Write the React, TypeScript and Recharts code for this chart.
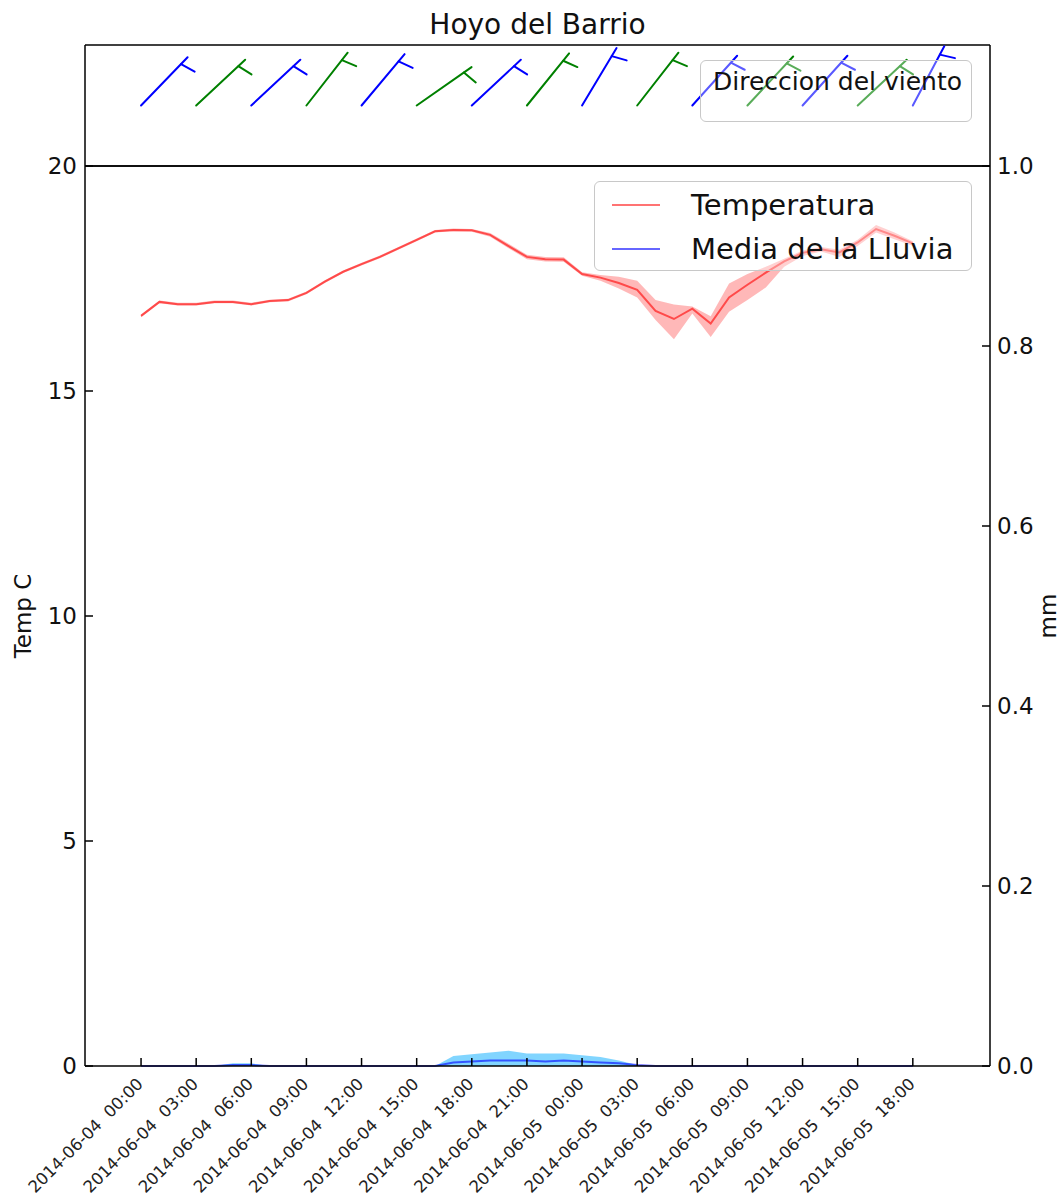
import React from 'react';
import { ComposedChart, Line, Area, Scatter, XAxis, YAxis, Legend } from 'recharts';

const FONT = '"DejaVu Sans", sans-serif';
const X_DOMAIN = [-3.05, 46.2];

// x ticks every 3 hours from 2014-06-04 00:00
const xTicks = [0, 3, 6, 9, 12, 15, 18, 21, 24, 27, 30, 33, 36, 39, 42];
const xTickLabels = [
  '2014-06-04  00:00', '2014-06-04  03:00', '2014-06-04  06:00', '2014-06-04  09:00',
  '2014-06-04  12:00', '2014-06-04  15:00', '2014-06-04  18:00', '2014-06-04  21:00',
  '2014-06-05  00:00', '2014-06-05  03:00', '2014-06-05  06:00', '2014-06-05  09:00',
  '2014-06-05  12:00', '2014-06-05  15:00', '2014-06-05  18:00',
];

const tempTicks = [0, 5, 10, 15, 20];
const mmTicks = [0, 0.2, 0.4, 0.6, 0.8, 1.0];

// hourly values, hour 0 .. 42
const temp = [
  16.67, 16.98, 16.93, 16.93, 16.98, 16.98, 16.93, 17.0, 17.02, 17.18, 17.43, 17.65, 17.82, 17.98,
  18.17, 18.36, 18.55, 18.58, 18.57, 18.47, 18.22, 17.98, 17.93, 17.92, 17.6, 17.52, 17.4, 17.25,
  16.78, 16.6, 16.83, 16.5, 17.08, 17.36, 17.63, 17.88, 18.07, 18.15, 18.08, 18.3, 18.6, 18.45, 18.28,
];
const tempMin = [
  16.64, 16.95, 16.9, 16.9, 16.95, 16.95, 16.9, 16.97, 16.99, 17.15, 17.4, 17.62, 17.79, 17.95,
  18.14, 18.33, 18.52, 18.55, 18.54, 18.43, 18.17, 17.93, 17.88, 17.87, 17.56, 17.45, 17.28, 17.08,
  16.58, 16.15, 16.72, 16.2, 16.76, 17.02, 17.3, 17.76, 18.0, 18.1, 17.98, 18.22, 18.52, 18.37, 18.23,
];
const tempMax = [
  16.7, 17.01, 16.96, 16.96, 17.01, 17.01, 16.96, 17.03, 17.05, 17.21, 17.46, 17.68, 17.85, 18.01,
  18.2, 18.39, 18.58, 18.61, 18.6, 18.51, 18.27, 18.03, 17.98, 17.97, 17.64, 17.58, 17.54, 17.45,
  17.02, 16.92, 16.88, 16.66, 17.39, 17.6, 17.76, 17.94, 18.12, 18.2, 18.14, 18.36, 18.69, 18.52, 18.33,
];
const rainMean = [
  0, 0, 0, 0, 0, 0.001, 0.001, 0, 0, 0, 0, 0, 0, 0, 0, 0, 0,
  0.004, 0.005, 0.006, 0.006, 0.006, 0.005, 0.006, 0.005, 0.004, 0.003, 0.001,
  0, 0, 0, 0, 0, 0, 0, 0, 0, 0, 0, 0, 0, 0, 0,
];
const rainMax = [
  0, 0, 0, 0, 0, 0.003, 0.003, 0, 0, 0, 0, 0, 0, 0, 0, 0, 0,
  0.011, 0.013, 0.015, 0.017, 0.014, 0.014, 0.014, 0.012, 0.01, 0.006, 0.001,
  0, 0, 0, 0, 0, 0, 0, 0, 0, 0, 0, 0, 0, 0, 0,
];

// wind direction (degrees, from north) every 3 hours
const windHours = [0, 3, 6, 9, 12, 15, 18, 21, 24, 27, 30, 33, 36, 39, 42];
const windDir = [44, 47, 47, 38, 40, 55, 47, 39, 31, 38, 42, 43, 42, 47, 28];

const legendOrder = ['temp', 'rain'];

const data = temp.map((t, i) => ({
  h: i,
  temp: t,
  tempBand: [tempMin[i], tempMax[i]],
  rain: rainMean[i],
  rainBand: [0, rainMax[i]],
}));

const windData = windHours.map((h, i) => ({ h, y: 0.5, dir: windDir[i], group: i % 2 }));

const spine = { stroke: '#000', strokeWidth: 1.5 };
const STAFF = 67;

const Barb = (props: any) => {
  const { cx, cy, payload } = props;
  const a = (payload.dir * Math.PI) / 180;
  const ux = Math.sin(a);
  const uy = -Math.cos(a);
  const tipX = cx + ux * STAFF;
  const tipY = cy + uy * STAFF;
  const jX = cx + ux * STAFF * 0.86;
  const jY = cy + uy * STAFF * 0.86;
  const bX = jX - uy * 15 + ux * 4;
  const bY = jY + ux * 15 + uy * 4;
  const color = payload.group === 0 ? '#0000ff' : '#008000';
  return (
    <g stroke={color} strokeWidth={2} strokeLinecap="round">
      <line x1={cx} y1={cy} x2={tipX} y2={tipY} />
      <line x1={jX} y1={jY} x2={bX} y2={bY} />
    </g>
  );
};

const DateTick = ({ x, y, payload }: any) => {
  const label = xTickLabels[xTicks.indexOf(payload.value)];
  const px = x + 3;
  const py = y + 5;
  return (
    <text
      x={px}
      y={py}
      transform={`rotate(-45, ${px}, ${py})`}
      textAnchor="end"
      fontSize={16.5}
      fill="#222"
      fontFamily={FONT}
      style={{ whiteSpace: 'pre' }}
    >
      {label}
    </text>
  );
};

const boxStyle: React.CSSProperties = {
  position: 'relative',
  width: '100%',
  height: '100%',
  boxSizing: 'border-box',
  border: '1.5px solid #c8c8c8',
  borderRadius: 6,
  background: 'rgba(255,255,255,0.35)',
  fontFamily: FONT,
  color: '#111',
};

const WindLegend = (props: any) => {
  const item = (props.payload || [])[0];
  return (
    <div style={boxStyle}>
      <div style={{ position: 'absolute', left: 12, top: 21 - 15, fontSize: 25, whiteSpace: 'nowrap' }}>
        {item ? item.value : ''}
      </div>
    </div>
  );
};

const handleColors: Record<string, string> = { temp: 'rgba(255,0,0,0.55)', rain: 'rgba(0,0,255,0.6)' };

const MainLegend = (props: any) => {
  const items = (props.payload || [])
    .filter((it: any) => legendOrder.includes(it.dataKey))
    .sort((a: any, b: any) => legendOrder.indexOf(a.dataKey) - legendOrder.indexOf(b.dataKey));
  return (
    <div style={boxStyle}>
      {items.map((it: any, i: number) => {
        const cy = 23 + i * 43.5;
        return (
          <div key={it.value} style={{ position: 'absolute', left: 0, top: cy - 18, height: 36, width: '100%' }}>
            <div style={{ position: 'absolute', left: 17, top: 17, width: 48, height: 2, background: handleColors[it.dataKey] }} />
            <span style={{ position: 'absolute', left: 96, fontSize: 29, whiteSpace: 'nowrap', lineHeight: '36px', top: 0 }}>
              {it.value}
            </span>
          </div>
        );
      })}
    </div>
  );
};

export default function App() {
  return (
    <div style={{ position: 'absolute', left: 0, top: 0, width: 1060, height: 1196, background: '#fff', fontFamily: FONT }}>
      <div style={{ position: 'absolute', left: 85, top: 8, width: 905, textAlign: 'center', fontSize: 28, color: '#111' }}>
        Hoyo del Barrio
      </div>

      <div style={{ position: 'absolute', left: 0, top: 0 }}>
        <ComposedChart width={1060} height={167} margin={{ top: 44, right: 69, bottom: 0, left: 84 }}>
          <XAxis xAxisId="b" dataKey="h" type="number" domain={X_DOMAIN} allowDataOverflow ticks={xTicks}
            tick={false} tickLine={false} axisLine={spine} height={1} />
          <XAxis xAxisId="t" orientation="top" dataKey="h" type="number" domain={X_DOMAIN} allowDataOverflow ticks={xTicks}
            tick={false} tickLine={false} axisLine={spine} height={1} />
          <YAxis yAxisId="l" type="number" domain={[0, 1]} ticks={[0, 1]} tick={false} tickLine={false} axisLine={spine} width={1} />
          <YAxis yAxisId="r" orientation="right" type="number" domain={[0, 1]} ticks={[0, 1]} tick={false} tickLine={false}
            axisLine={spine} width={1} />
          <Scatter xAxisId="b" yAxisId="l" name="Direccion del viento" data={windData} dataKey="y" shape={Barb}
            isAnimationActive={false} />
          <Legend content={WindLegend} layout="horizontal" verticalAlign="middle" align="center"
            wrapperStyle={{ position: 'absolute', left: 700, top: 60, width: 272, height: 62 }} />
        </ComposedChart>
      </div>

      <div style={{ position: 'absolute', left: 0, top: 0 }}>
        <ComposedChart width={1060} height={1196} data={data} margin={{ top: 165, right: 0, bottom: 0, left: 0 }}>
          <XAxis xAxisId="b" dataKey="h" type="number" domain={X_DOMAIN} allowDataOverflow ticks={xTicks} interval={0}
            tick={(p: any) => <DateTick {...p} />} tickSize={-8} tickMargin={22} tickLine={spine} axisLine={spine} height={130} />
          <XAxis xAxisId="t" orientation="top" dataKey="h" type="number" domain={X_DOMAIN} allowDataOverflow ticks={xTicks}
            interval={0} tick={false} tickSize={-8} tickLine={spine} axisLine={spine} height={1} />
          <YAxis yAxisId="temp" type="number" domain={[0, 20]} ticks={tempTicks} interval={0} width={85}
            tickSize={-8} tickMargin={16} tickLine={spine} axisLine={spine}
            tick={{ fontSize: 23, fill: '#111', fontFamily: FONT }}
            label={{ value: 'Temp C', angle: -90, position: 'insideLeft', offset: 23, textAnchor: 'middle', fontSize: 23, fill: '#111', fontFamily: FONT }} />
          <YAxis yAxisId="mm" orientation="right" type="number" domain={[0, 1]} ticks={mmTicks} interval={0} width={70}
            tickFormatter={(v: number) => v.toFixed(1)} tickSize={-8} tickMargin={15} tickLine={spine} axisLine={spine}
            tick={{ fontSize: 23, fill: '#111', fontFamily: FONT }}
            label={{ value: 'mm', angle: -90, position: 'insideRight', offset: 12, textAnchor: 'middle', fontSize: 23, fill: '#111', fontFamily: FONT }} />
          <Area xAxisId="b" yAxisId="temp" dataKey="tempBand" stroke="none" fill="#ff0000" fillOpacity={0.28}
            legendType="none" isAnimationActive={false} />
          <Line xAxisId="b" yAxisId="temp" dataKey="temp" name="Temperatura" stroke="#ff0000" strokeOpacity={0.6}
            strokeWidth={2} dot={false} isAnimationActive={false} />
          <Area xAxisId="b" yAxisId="mm" dataKey="rainBand" stroke="none" fill="#1ab2ff" fillOpacity={0.55}
            legendType="none" isAnimationActive={false} />
          <Line xAxisId="b" yAxisId="mm" dataKey="rain" name="Media de la Lluvia" stroke="#0000ff" strokeOpacity={0.6}
            strokeWidth={2} dot={false} isAnimationActive={false} />
          <Legend content={MainLegend} layout="horizontal" verticalAlign="middle" align="center"
            wrapperStyle={{ position: 'absolute', left: 594, top: 181, width: 378, height: 90 }} />
        </ComposedChart>
      </div>
    </div>
  );
}
